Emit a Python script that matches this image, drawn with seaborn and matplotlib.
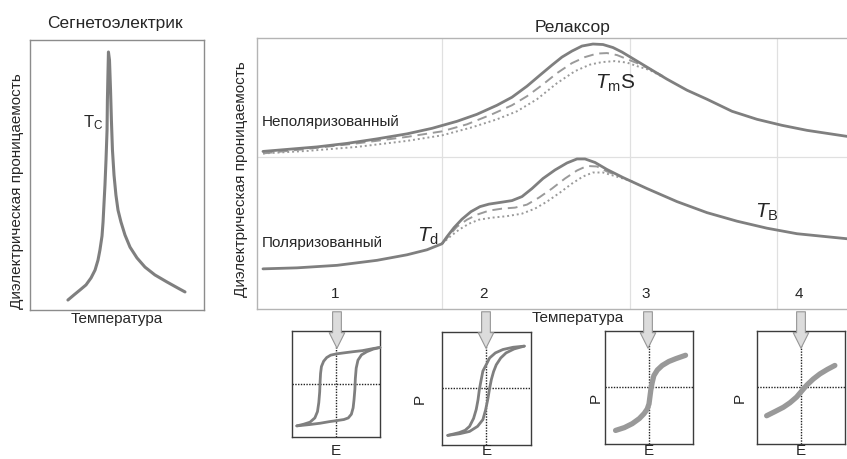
import matplotlib
matplotlib.use('Agg')
import matplotlib.pyplot as plt
import seaborn as sns

sns.set_theme(style='white')
plt.rcParams['font.family'] = ['Liberation Sans', 'DejaVu Sans']
plt.rcParams['mathtext.fontset'] = 'custom'
plt.rcParams['mathtext.rm'] = 'Liberation Sans'
plt.rcParams['mathtext.it'] = 'Liberation Sans:italic'

# --- Ferroelectric panel (arbitrary units 0-100) ---
fe_temp = [21.8, 25.3, 28.7, 32.2, 35.1, 37.4, 39.1, 40.2, 41.4, 42.0, 42.5, 43.1, 43.7,
           44.3, 44.5, 44.8, 45.1, 45.7, 46.3, 46.8, 47.4, 48.3, 49.4, 50.6, 52.3, 54.6,
           57.5, 61.5, 66.1, 71.8, 78.7, 85.1, 89.1]
fe_eps = [3.7, 5.6, 7.4, 9.3, 11.9, 14.8, 18.5, 22.2, 27.4, 32.6, 38.9, 46.3, 55.6,
          66.7, 77.8, 87.0, 95.6, 92.6, 81.5, 70.4, 59.3, 50.0, 42.6, 37.0, 32.6, 27.8,
          23.3, 19.3, 15.9, 13.0, 10.4, 8.1, 6.7]

# --- Relaxor panel (arbitrary units, T 0-590, eps 0-270) ---
unpol_solid_t = [6, 30, 60, 90, 120, 150, 175, 200, 220, 240, 255, 270, 283, 295, 305, 315,
                 325, 336, 346, 356, 365, 375, 390, 410, 430, 450, 475, 500, 525, 550, 570, 590]
unpol_solid_e = [157, 159, 161.5, 165, 169.5, 174.5, 180, 187, 194, 203, 211, 222, 233, 243,
                 251, 257, 262, 264, 263.5, 260.5, 256, 250, 241, 229, 218, 209, 197, 189,
                 183, 178, 175, 172]
unpol_dash_t = [6, 50, 100, 150, 185, 210, 235, 255, 270, 285, 300, 315, 328, 340, 350,
                360, 370, 380, 393, 406]
unpol_dash_e = [155, 159.5, 165, 171.5, 177, 184, 194, 203, 212, 223, 235, 245, 251, 254.5,
                255, 253, 249, 245, 239, 232]
unpol_dot_t = [6, 50, 100, 150, 185, 215, 240, 260, 280, 300, 318, 333, 345, 358, 370,
               380, 393, 406]
unpol_dot_e = [155, 157.5, 161.5, 167.5, 173, 181, 189, 197, 209, 225, 237, 243.5, 246, 247,
               245.5, 242, 238, 231]

pol_solid_t = [6, 40, 80, 120, 150, 170, 185, 190, 197, 205, 214, 223, 232, 242, 255, 265,
               275, 286, 298, 310, 320, 328, 338, 350, 366, 390, 420, 450, 480, 510, 540,
               570, 590]
pol_solid_e = [40, 41, 43.5, 48.5, 54, 59, 65, 72, 81, 89.5, 97, 102, 104.5, 106, 108, 112,
               120, 130, 138.5, 145.5, 149.5, 149.5, 146, 139, 131, 120, 107, 96, 87.5, 80.5,
               75, 72, 70]
pol_dash_t = [185, 192, 200, 210, 220, 232, 245, 258, 270, 282, 295, 308, 320, 330, 340,
              350, 363]
pol_dash_e = [65, 73, 82, 89, 94, 98, 100, 101, 104, 111, 120, 130, 138, 142.5, 142, 137, 132]
pol_dot_t = [185, 193, 202, 212, 222, 235, 250, 265, 278, 290, 303, 315, 326, 336, 346,
             356, 366, 376]
pol_dot_e = [65, 72, 79, 85, 89, 91, 92.5, 95, 100, 107, 116, 125, 132, 136, 136, 133,
             130, 127]

region_t = [80, 229, 391, 544]
region_labels = ['1', '2', '3', '4']
grid_t = [185, 373, 520]

# --- P-E loops (normalised E, P) ---
loop1_up_E = [1.0, 0.85, 0.6, 0.39, 0.2, 0.02, -0.12, -0.21, -0.28, -0.33, -0.35, -0.36,
              -0.37, -0.39, -0.42, -0.48, -0.59, -0.74, -0.89]
loop1_up_P = [0.69, 0.67, 0.63, 0.61, 0.59, 0.57, 0.545, 0.50, 0.43, 0.33, 0.2, 0.05,
              -0.15, -0.35, -0.52, -0.64, -0.72, -0.76, -0.79]
loop1_lo_E = [-0.89, -0.6, -0.36, -0.15, 0.02, 0.18, 0.28, 0.35, 0.39, 0.41, 0.43, 0.44,
              0.46, 0.5, 0.58, 0.7, 0.85, 1.0]
loop1_lo_P = [-0.79, -0.765, -0.74, -0.71, -0.69, -0.67, -0.64, -0.57, -0.45, -0.3, -0.1,
              0.1, 0.3, 0.45, 0.55, 0.61, 0.66, 0.69]

loop2_up_E = [0.85, 0.6, 0.37, 0.2, 0.07, 0.0, -0.08, -0.12, -0.16, -0.19, -0.23, -0.29,
              -0.38, -0.48, -0.61, -0.87]
loop2_up_P = [0.75, 0.73, 0.69, 0.63, 0.54, 0.43, 0.31, 0.15, -0.02, -0.2, -0.37, -0.53,
              -0.67, -0.74, -0.78, -0.83]
loop2_lo_E = [-0.87, -0.6, -0.38, -0.2, -0.08, -0.02, 0.03, 0.07, 0.11, 0.16, 0.22, 0.32,
              0.44, 0.62, 0.85]
loop2_lo_P = [-0.83, -0.8, -0.76, -0.67, -0.55, -0.38, -0.19, 0.0, 0.16, 0.3, 0.42, 0.54,
              0.63, 0.7, 0.75]

loop3_E = [-0.76, -0.56, -0.38, -0.22, -0.11, -0.04, 0.0, 0.02, 0.04, 0.07, 0.11, 0.19,
           0.30, 0.45, 0.61, 0.83]
loop3_P = [-0.76, -0.71, -0.64, -0.55, -0.46, -0.38, -0.29, -0.17, -0.05, 0.08, 0.21, 0.31,
           0.39, 0.46, 0.51, 0.57]

loop4_E = [-0.78, -0.60, -0.40, -0.25, -0.10, 0.02, 0.13, 0.28, 0.43, 0.60, 0.77]
loop4_P = [-0.50, -0.43, -0.35, -0.27, -0.17, -0.06, 0.04, 0.15, 0.24, 0.32, 0.39]

line_c = '#7f7f7f'
light_c = '#9a9a9a'
thick_c = '#999999'
fs = 11

fig = plt.figure(figsize=(8.47, 4.59), dpi=100)

# left panel: ferroelectric
ax_fe = fig.add_axes([0.0354, 0.3246, 0.2054, 0.588])
sns.lineplot(x=fe_temp, y=fe_eps, ax=ax_fe, sort=False, estimator=None, color=line_c, lw=2.2)
ax_fe.set_xlim(0, 100)
ax_fe.set_ylim(0, 100)
ax_fe.set_xticks([])
ax_fe.set_yticks([])
for s in ax_fe.spines.values():
    s.set_color('#8c8c8c')
    s.set_linewidth(1)
ax_fe.text(0.49, 1.06, 'Сегнетоэлектрик', transform=ax_fe.transAxes, ha='center', va='center', fontsize=12.5)
ax_fe.text(0.50, -0.035, 'Температура', transform=ax_fe.transAxes, ha='center', va='center', fontsize=fs)
ax_fe.text(-0.075, 0.44, 'Диэлектрическая проницаемость', transform=ax_fe.transAxes,
           ha='center', va='center', rotation=90, fontsize=fs)
ax_fe.text(30.5, 69.5, r'T$_\mathregular{C}$', ha='left', va='center', fontsize=12)

# right panel: relaxor
ax = fig.add_axes([0.3034, 0.3268, 0.6966, 0.5904])
ax.set_zorder(10)  # so the arrows are drawn over the inset boxes
for t in grid_t:
    ax.axvline(t, color='#e0e0e0', lw=0.9, zorder=0)
ax.axhline(151, color='#e0e0e0', lw=0.9, zorder=0)

sns.lineplot(x=unpol_dot_t, y=unpol_dot_e, ax=ax, sort=False, estimator=None,
             color=light_c, lw=1.4, linestyle=(0, (1, 1.5)))
sns.lineplot(x=unpol_dash_t, y=unpol_dash_e, ax=ax, sort=False, estimator=None,
             color=light_c, lw=1.4, linestyle=(0, (5, 3)))
sns.lineplot(x=unpol_solid_t, y=unpol_solid_e, ax=ax, sort=False, estimator=None,
             color=line_c, lw=2)
sns.lineplot(x=pol_dot_t, y=pol_dot_e, ax=ax, sort=False, estimator=None,
             color=light_c, lw=1.4, linestyle=(0, (1, 1.5)))
sns.lineplot(x=pol_dash_t, y=pol_dash_e, ax=ax, sort=False, estimator=None,
             color=light_c, lw=1.4, linestyle=(0, (5, 3)))
sns.lineplot(x=pol_solid_t, y=pol_solid_e, ax=ax, sort=False, estimator=None,
             color=line_c, lw=2)

ax.set_xlim(0, 590)
ax.set_ylim(0, 270)
ax.set_xticks([])
ax.set_yticks([])
for s in ax.spines.values():
    s.set_color('#b4b4b4')
    s.set_linewidth(1)
ax.spines['right'].set_visible(False)

ax.text(0.535, 1.04, 'Релаксор', transform=ax.transAxes, ha='center', va='center', fontsize=12.5)
ax.text(-0.027, 0.48, 'Диэлектрическая проницаемость', transform=ax.transAxes,
        ha='center', va='center', rotation=90, fontsize=fs)
ax.text(5, 186, 'Неполяризованный', ha='left', va='center', fontsize=fs)
ax.text(5, 66, 'Поляризованный', ha='left', va='center', fontsize=fs)
ax.text(171, 72, r'$T_{\mathrm{d}}$', ha='center', va='center', fontsize=15)
ax.text(358, 225, r'$T_{\mathrm{m}}\mathrm{S}$', ha='center', va='center', fontsize=15)
ax.text(510, 96, r'$T_{\mathrm{B}}$', ha='center', va='center', fontsize=15)
for t, lab in zip(region_t, region_labels):
    ax.text(t - 2, 15, lab, ha='center', va='center', fontsize=fs)
    ax.annotate('', xy=(t, -0.155), xytext=(t, 0.0),
                xycoords=('data', 'axes fraction'), textcoords=('data', 'axes fraction'),
                arrowprops=dict(arrowstyle='simple,head_length=0.8,head_width=0.8,tail_width=0.45',
                                mutation_scale=14, fc='#dcdcdc', ec='#969696', lw=0.8),
                annotation_clip=False, zorder=5)
fig.text(578 / 847, 1 - 318 / 459, 'Температура', ha='center', va='center', fontsize=fs)

# P-E insets
boxes = [[0.3447, 0.0479, 0.1039, 0.2309],
         [0.5218, 0.0305, 0.1051, 0.2462],
         [0.7143, 0.0327, 0.1039, 0.2462],
         [0.8937, 0.0327, 0.1039, 0.2462]]
p_offsets = [None, -0.25, -0.11, -0.19]
insets = []
for b, po in zip(boxes, p_offsets):
    a = fig.add_axes(b)
    a.set_xlim(-1, 1)
    a.set_ylim(-1, 1)
    a.set_xticks([])
    a.set_yticks([])
    for s in a.spines.values():
        s.set_color('#3c3c3c')
        s.set_linewidth(1)
    a.axhline(0, color='#222222', lw=1, linestyle=(0, (1, 1)), zorder=1)
    a.axvline(0, color='#222222', lw=1, linestyle=(0, (1, 1)), zorder=1)
    if po is not None:
        a.text(po, 0.41, 'P', transform=a.transAxes, rotation=90, ha='center', va='center', fontsize=fs)
    fig.text(b[0] + b[2] / 2, 0.002, 'E', ha='center', va='bottom', fontsize=fs)
    insets.append(a)

sns.lineplot(x=loop1_up_E, y=loop1_up_P, ax=insets[0], sort=False, estimator=None, color=line_c, lw=2, zorder=3)
sns.lineplot(x=loop1_lo_E, y=loop1_lo_P, ax=insets[0], sort=False, estimator=None, color=line_c, lw=2, zorder=3)
sns.lineplot(x=loop2_up_E, y=loop2_up_P, ax=insets[1], sort=False, estimator=None, color=line_c, lw=2, zorder=3)
sns.lineplot(x=loop2_lo_E, y=loop2_lo_P, ax=insets[1], sort=False, estimator=None, color=line_c, lw=2, zorder=3)
sns.lineplot(x=loop3_E, y=loop3_P, ax=insets[2], sort=False, estimator=None, color=thick_c, lw=3.8, zorder=3)
sns.lineplot(x=loop4_E, y=loop4_P, ax=insets[3], sort=False, estimator=None, color=thick_c, lw=3.8, zorder=3)
for a in insets:
    for l in a.lines:
        l.set_clip_on(False)

fig.savefig('out.png', dpi=100)
